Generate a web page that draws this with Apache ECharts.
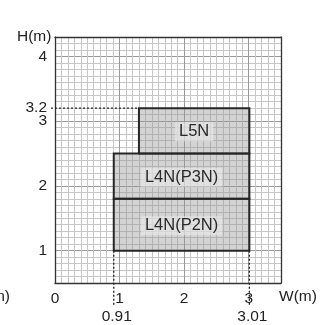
<!DOCTYPE html>
<html><head><meta charset="utf-8">
<script src="https://cdn.jsdelivr.net/npm/echarts@6/dist/echarts.min.js"></script>
<style>html,body{margin:0;padding:0;background:#fff}#c{width:334px;height:325px}</style>
</head><body><div id="c"></div>
<script>
// ---- data ----
const names = ['L4N(P2N)', 'L4N(P3N)', 'L5N'];
const xStart = [0.91, 0.91, 1.3];
const xEnd = [3.01, 3.01, 3.01];
const yStart = [1.0, 1.8, 2.5];
const yEnd = [1.8, 2.5, 3.2];
const guideXValues = [0.91, 3.01];
const guideXLabels = ['0.91', '3.01'];
const guideYValue = 3.2;
const xTickLabels = ['0', '1', '2', '3'];
const yTickLabels = ['1', '2', '3', '3.2', '4'];

const FONT = '"Liberation Sans", Arial, sans-serif';
const AX = 15.5;
const minor = '#c6c6c6', major = '#999999';
const xColors = [major].concat(Array(9).fill(minor));
const yColors = Array(10).fill(minor); yColors[5] = major;

function fmt(list) {
  return function (v) {
    const s = String(Math.round(v * 100) / 100);
    return list.indexOf(s) >= 0 ? s : '';
  };
}

const rectData = names.map((n, i) => [xStart[i], xEnd[i], yStart[i], yEnd[i], n]);
const guideData = guideXValues.map((x, i) => [x, yStart[0], guideXLabels[i]]);

const chart = echarts.init(document.getElementById('c'), null, {renderer: 'canvas'});
chart.setOption({
  animation: false,
  textStyle: {fontFamily: FONT},
  grid: {left: 55, right: 53, top: 37, bottom: 42},
  xAxis: [{
    type: 'value', min: 0, max: 3.5, interval: 0.1,
    axisLine: {show: true, lineStyle: {color: '#333', width: 1.3}},
    axisTick: {show: false},
    axisLabel: {formatter: fmt(xTickLabels), margin: 8, color: '#222', fontSize: AX, fontFamily: FONT},
    splitLine: {show: true, lineStyle: {color: xColors, width: 1}}
  }, {
    type: 'value', min: 0, max: 3.5, position: 'top',
    axisLine: {show: true, onZero: false, lineStyle: {color: '#333', width: 1.3}},
    axisTick: {show: false}, axisLabel: {show: false}, splitLine: {show: false}
  }],
  yAxis: [{
    type: 'value', min: 0.5, max: 4.3, interval: 0.1,
    axisLine: {show: true, onZero: false, lineStyle: {color: '#333', width: 1.3}},
    axisTick: {show: false},
    axisLabel: {formatter: fmt(yTickLabels), margin: 8, color: '#222', fontSize: AX, fontFamily: FONT},
    splitLine: {show: true, lineStyle: {color: yColors, width: 1}}
  }, {
    type: 'value', min: 0.5, max: 4.3, position: 'right',
    axisLine: {show: true, onZero: false, lineStyle: {color: '#333', width: 1.3}},
    axisTick: {show: false}, axisLabel: {show: false}, splitLine: {show: false}
  }],
  graphic: [
    {type: 'text', left: 17, top: 29, style: {text: 'H(m)', fill: '#222', font: AX + 'px ' + FONT}},
    {type: 'text', left: 279, top: 289, style: {text: 'W(m)', fill: '#222', font: AX + 'px ' + FONT}},
    {type: 'text', x: 10, y: 297, style: {text: 'H(m)', fill: '#222', font: AX + 'px ' + FONT, align: 'right', verticalAlign: 'middle'}}
  ],
  series: [{
    type: 'custom',
    xAxisIndex: 0, yAxisIndex: 0,
    data: rectData,
    z: 3,
    renderItem: function (params, api) {
      const tl = api.coord([api.value(0), api.value(3)]);
      const br = api.coord([api.value(1), api.value(2)]);
      const name = rectData[params.dataIndex][4];
      return {
        type: 'group',
        children: [{
          type: 'rect',
          shape: {x: tl[0], y: tl[1], width: br[0] - tl[0], height: br[1] - tl[1]},
          style: {fill: 'rgba(150,150,150,0.42)', stroke: '#262626', lineWidth: 2}
        }, {
          type: 'text',
          x: (tl[0] + br[0]) / 2, y: (tl[1] + br[1]) / 2 + 1,
          style: {text: name, align: 'center', verticalAlign: 'middle', fill: '#2a2a2a',
            font: '16.5px ' + FONT, backgroundColor: 'rgba(232,232,232,0.65)', padding: [1, 4]}
        }]
      };
    }
  }, {
    type: 'custom',
    xAxisIndex: 0, yAxisIndex: 0,
    data: guideData,
    z: 4,
    clip: false,
    renderItem: function (params, api) {
      const top = api.coord([api.value(0), api.value(1)]);
      const bot = api.coord([api.value(0), 0.5]);
      const children = [{
        type: 'line',
        shape: {x1: top[0], y1: top[1], x2: bot[0], y2: bot[1] + 22},
        style: {stroke: '#222', lineWidth: 1.3, lineDash: [2, 2]}
      }, {
        type: 'text',
        x: bot[0] + 3, y: bot[1] + 34,
        style: {text: guideData[params.dataIndex][2], align: 'center', verticalAlign: 'middle',
          fill: '#222', font: AX + 'px ' + FONT}
      }];
      if (params.dataIndex === 0) {
        const a = api.coord([0, guideYValue]);
        const b = api.coord([xStart[2], guideYValue]);
        children.push({
          type: 'line',
          shape: {x1: a[0] - 4, y1: a[1], x2: b[0], y2: b[1]},
          style: {stroke: '#222', lineWidth: 1.3, lineDash: [2, 2]}
        });
      }
      return {type: 'group', children: children};
    }
  }]
});
</script></body></html>
